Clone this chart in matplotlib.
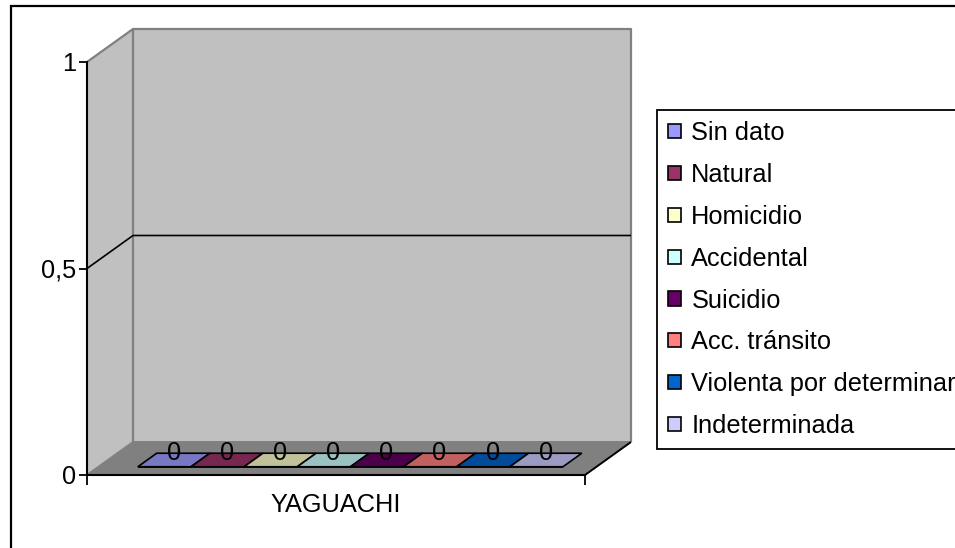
import matplotlib
matplotlib.use("Agg")
import matplotlib.pyplot as plt
from matplotlib.patches import Polygon, Patch, Rectangle
from matplotlib.lines import Line2D

plt.rcParams['font.family'] = ['Liberation Sans', 'DejaVu Sans']

# ---- data ----
category = "YAGUACHI"
series = ["Sin dato", "Natural", "Homicidio", "Accidental", "Suicidio",
          "Acc. tránsito", "Violenta por determinar", "Indeterminada"]
values = [0, 0, 0, 0, 0, 0, 0, 0]
legend_colors = ["#9999FF", "#993366", "#FFFFCC", "#CCFFFF", "#660066",
                 "#FF8080", "#0066CC", "#CCCCFF"]
bar_colors = ["#7777C2", "#772850", "#C2C29A", "#9AC2C2", "#4C004C",
              "#C26060", "#004C9A", "#9A9AC2"]
yticks = [0, 0.5, 1]
ytick_labels = ["0", "0,5", "1"]

FS = 18.3

W, H = 955, 548
fig = plt.figure(figsize=(W / 100, H / 100), dpi=100)
fig.patch.set_facecolor("white")

# front plane of the 3D box in pixel terms
L, R, B, T = 87, 585, 475, 62
ax = fig.add_axes([L / W, 1 - B / H, (R - L) / W, (B - T) / H])
ax.set_xlim(0, 1)
ax.set_ylim(0, 1)
ax.patch.set_alpha(0)

DX = 46 / (R - L)
DY = 33 / (B - T)


def P(x, y, d):
    return (x + d * DX, y + d * DY)


def poly(pts, fc, ec="none", lw=0, z=0):
    ax.add_patch(Polygon(pts, closed=True, facecolor=fc, edgecolor=ec,
                         linewidth=lw, clip_on=False, zorder=z))


def line(pts, color, lw, z=1):
    xs, ys = zip(*pts)
    ax.add_line(Line2D(xs, ys, color=color, linewidth=lw, clip_on=False,
                       zorder=z, solid_capstyle="butt"))


ymin, ymax = yticks[0], yticks[-1]
# walls
poly([P(0, ymin, 0), P(0, ymin, 1), P(0, ymax, 1), P(0, ymax, 0)], "#C0C0C0", z=0)
poly([P(0, ymin, 1), P(1, ymin, 1), P(1, ymax, 1), P(0, ymax, 1)], "#C0C0C0", z=0)
poly([P(0, ymin, 0), P(1, ymin, 0), P(1, ymin, 1), P(0, ymin, 1)], "#808080", z=0.5)
# wall edges
line([P(0, ymax, 0), P(0, ymax, 1), P(1, ymax, 1), P(1, ymin, 1)], "#808080", 1.6)
line([P(0, ymax, 1), P(0, ymin, 1)], "#808080", 1.6)
line([P(0, ymin, 0), P(0, ymin, 1), P(1, ymin, 1)], "#808080", 1.4)
line([P(1, ymin, 0), P(1, ymin, 1)], "black", 1.4, z=2)
# gridline
for yv in yticks[1:-1]:
    line([P(0, yv, 0), P(0, yv, 1), P(1, yv, 1)], "black", 1.2)

# bars (zero height -> flat top faces on floor)
X0, BW = 0.079, 0.1067
D0, D1 = 0.25, 0.66
for i, (v, c) in enumerate(zip(values, bar_colors)):
    x0 = X0 + i * BW
    x1 = x0 + BW
    # front face
    poly([P(x0, 0, D0), P(x1, 0, D0), P(x1, v, D0), P(x0, v, D0)], c, "black", 1.2, z=3)
    # top face
    poly([P(x0, v, D0), P(x1, v, D0), P(x1, v, D1), P(x0, v, D1)], c, "black", 1.2, z=3)
    cx, cy = P((x0 + x1) / 2, v, (D0 + D1) / 2)
    ax.annotate(f"{v}", (cx, cy), xytext=(0, 7), textcoords="offset pixels",
                ha="center", va="center", fontsize=FS, zorder=4,
                annotation_clip=False)

# axes styling
for s in ["top", "right"]:
    ax.spines[s].set_visible(False)
ax.spines["left"].set_linewidth(1.5)
ax.spines["bottom"].set_linewidth(1.5)
ax.spines["left"].set_zorder(5)
ax.spines["bottom"].set_zorder(5)
ax.set_yticks(yticks)
ax.set_yticklabels(ytick_labels)
ax.tick_params(axis="y", direction="out", length=6, width=1.3, pad=2,
               labelsize=FS)
ax.set_xticks([0.5])
ax.set_xticklabels([category])
ax.set_xticks([0, 1], minor=True)
ax.tick_params(axis="x", which="major", length=0, pad=13, labelsize=FS)
ax.tick_params(axis="x", which="minor", direction="out", length=7, width=1.3)

# legend
handles = [Patch(facecolor=c, edgecolor="black", linewidth=1.2) for c in legend_colors]
leg = ax.legend(handles, series, loc="upper left",
                bbox_to_anchor=(657 / W, 1 - 110 / H),
                bbox_transform=fig.transFigure, borderaxespad=0,
                fontsize=FS, frameon=True, fancybox=False, framealpha=1,
                edgecolor="black", handlelength=0.48, handleheight=0.48,
                handletextpad=0.42, borderpad=0.45, labelspacing=0.7)
leg.get_frame().set_linewidth(1.3)
leg.set_zorder(10)

# chart-area border (left and top visible)
fig.patches.append(Rectangle((11 / W, -0.2), 2.0, 1.2 - 6 / H,
                             transform=fig.transFigure, fill=False,
                             edgecolor="black", linewidth=1.6))

fig.savefig("out.png", dpi=100)
